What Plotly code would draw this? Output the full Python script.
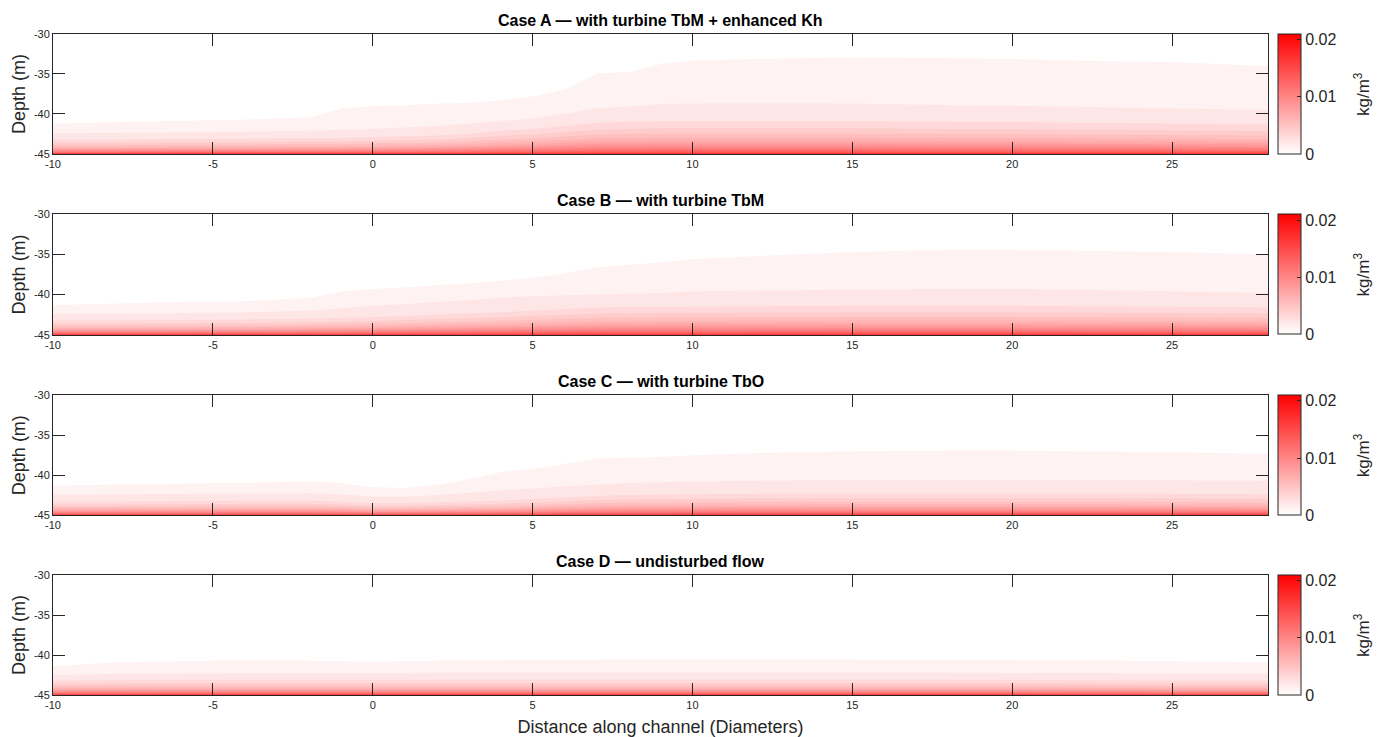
import numpy as np
import plotly.graph_objects as go

# ---------------- data ----------------
x_stations = [-10, -8, -6, -4, -2, -1, 0, 1, 2, 3, 4, 5, 6, 7, 8, 9, 10, 12, 15, 18, 20, 22, 25, 28]

# depth (m) of the 0.001 / 0.002 / 0.003 kg/m3 iso-lines at each station
caseA_c001 = [-41.2, -41.0, -40.85, -40.7, -40.4, -39.3, -39.0, -38.9, -38.7, -38.6, -38.3, -37.8,
              -36.9, -34.9, -34.75, -33.7, -33.3, -33.1, -32.9, -33.0, -33.1, -33.3, -33.5, -34.0]
caseA_c002 = [-42.4, -42.35, -42.3, -42.2, -42.1, -42.0, -41.9, -41.7, -41.5, -41.2, -40.9, -40.6,
              -40.0, -39.3, -39.1, -38.75, -38.7, -38.65, -38.7, -38.9, -39.0, -39.1, -39.3, -39.5]
caseA_c003 = [-43.2, -43.2, -43.1, -43.1, -43.0, -43.0, -42.9, -42.8, -42.7, -42.5, -42.1, -41.9,
              -41.5, -41.1, -41.0, -40.9, -40.9, -40.9, -40.9, -41.0, -41.0, -41.1, -41.2, -41.3]

caseB_c001 = [-41.3, -41.1, -40.9, -40.8, -40.4, -39.6, -39.3, -39.1, -38.8, -38.6, -38.3, -37.9,
              -37.35, -36.6, -36.3, -36.0, -35.6, -35.2, -34.7, -34.45, -34.45, -34.55, -34.7, -35.0]
caseB_c002 = [-42.4, -42.35, -42.3, -42.2, -42.0, -41.7, -41.4, -41.2, -40.9, -40.7, -40.4, -40.2,
              -40.1, -40.0, -39.9, -39.8, -39.6, -39.5, -39.4, -39.3, -39.3, -39.4, -39.6, -39.8]
caseB_c003 = [-43.2, -43.2, -43.15, -43.1, -43.0, -42.9, -42.8, -42.65, -42.5, -42.35, -42.2, -42.0,
              -41.8, -41.6, -41.55, -41.5, -41.5, -41.45, -41.4, -41.4, -41.4, -41.45, -41.5, -41.6]

caseC_c001 = [-41.3, -41.15, -41.05, -40.95, -40.75, -40.95, -41.5, -41.6, -41.2, -40.5, -39.6, -39.2,
              -38.6, -37.9, -37.8, -37.7, -37.5, -37.2, -37.0, -36.9, -36.9, -37.0, -37.1, -37.3]
caseC_c002 = [-42.45, -42.4, -42.35, -42.3, -42.25, -42.4, -42.7, -42.7, -42.5, -42.2, -41.9, -41.7,
              -41.4, -41.2, -41.0, -40.9, -40.8, -40.7, -40.6, -40.6, -40.6, -40.6, -40.65, -40.7]
caseC_c003 = [-43.3, -43.3, -43.25, -43.2, -43.2, -43.3, -43.5, -43.5, -43.4, -43.3, -43.2, -43.0,
              -42.8, -42.6, -42.5, -42.45, -42.4, -42.35, -42.3, -42.3, -42.3, -42.3, -42.35, -42.4]

caseD_c001 = [-41.4, -40.9, -40.75, -40.65, -40.7, -40.75, -40.8, -40.75, -40.7, -40.65, -40.6, -40.6,
              -40.6, -40.55, -40.55, -40.55, -40.55, -40.55, -40.55, -40.6, -40.6, -40.65, -40.75, -40.9]
caseD_c002 = [-42.5, -42.35, -42.3, -42.25, -42.25, -42.25, -42.25, -42.25, -42.2, -42.2, -42.2, -42.2,
              -42.2, -42.2, -42.2, -42.2, -42.2, -42.2, -42.2, -42.2, -42.25, -42.25, -42.3, -42.3]
caseD_c003 = [-43.2, -43.15, -43.1, -43.1, -43.1, -43.1, -43.1, -43.1, -43.1, -43.1, -43.1, -43.1,
              -43.1, -43.1, -43.1, -43.1, -43.1, -43.1, -43.1, -43.1, -43.1, -43.15, -43.2, -43.2]

# near-bed levels (kg/m3) and their height as a fraction of the 0.003 iso-line height
near_bed_levels = [0.016, 0.015, 0.014, 0.013, 0.012, 0.011, 0.010, 0.009, 0.008, 0.007, 0.006, 0.005, 0.004]
near_bed_frac = [0.01, 0.025, 0.045, 0.07, 0.10, 0.14, 0.19, 0.25, 0.32, 0.40, 0.50, 0.62, 0.78]
bed_value = 0.0165
bed_depth = -45.0

titles = ["Case A — with turbine TbM + enhanced Kh",
          "Case B — with turbine TbM",
          "Case C — with turbine TbO",
          "Case D — undisturbed flow"]
cases = [(caseA_c001, caseA_c002, caseA_c003),
         (caseB_c001, caseB_c002, caseB_c003),
         (caseC_c001, caseC_c002, caseC_c003),
         (caseD_c001, caseD_c002, caseD_c003)]

cbar_ticks = [0, 0.01, 0.02]
cbar_ticktext = ["0", "0.01", "0.02"]
cbar_title = "kg/m<sup>3</sup>"
x_ticks = [-10, -5, 0, 5, 10, 15, 20, 25]
x_ticktext = ["-10", "-5", "0", "5", "10", "15", "20", "25"]
y_ticks = [-45, -40, -35, -30]
y_ticktext = ["-45", "-40", "-35", "-30"]

# ---------------- build the fields ----------------
depth_grid = np.linspace(-45, -30, 301)
x_grid = np.linspace(-10, 28, 381)


def build_field(c1, c2, c3):
    c1g = np.interp(x_grid, x_stations, c1)
    c2g = np.interp(x_grid, x_stations, c2)
    c3g = np.interp(x_grid, x_stations, c3)
    z = np.zeros((len(depth_grid), len(x_grid)))
    for i in range(len(x_grid)):
        h3 = c3g[i] - bed_depth
        d = [bed_depth] + [bed_depth + f * h3 for f in near_bed_frac] + [c3g[i], c2g[i], c1g[i], c1g[i] + 0.1, -30.0]
        v = [bed_value] + near_bed_levels + [0.003, 0.002, 0.001, 0.0, 0.0]
        z[:, i] = np.interp(depth_grid, d, v)
    return z


reds = [[0, "#ffffff"], [1, "#ff0000"]]
domains = [[0.8186, 1.0], [0.5448, 0.7278], [0.2722, 0.4535], [0.0, 0.1815]]
axis_col = "#262626"
font_fam = "Arial, Liberation Sans, Helvetica, sans-serif"

fig = go.Figure()
annotations = []
for k, (c1, c2, c3) in enumerate(cases):
    xa = "x" if k == 0 else f"x{k+1}"
    ya = "y" if k == 0 else f"y{k+1}"
    z = build_field(c1, c2, c3)
    fig.add_trace(go.Contour(
        x=x_grid, y=depth_grid, z=z, xaxis=xa, yaxis=ya,
        colorscale=reds, showscale=False,
        contours=dict(start=0.001, end=0.020, size=0.001, coloring="fill", showlines=False),
        line=dict(width=0), hoverinfo="skip"))
    dom = domains[k]
    fig.add_trace(go.Scatter(
        x=[None], y=[None], xaxis=xa, yaxis=ya, mode="markers", showlegend=False,
        marker=dict(color=[0], cmin=0, cmax=0.021, colorscale=reds, showscale=True,
                    colorbar=dict(x=1.0086, xanchor="left", xpad=0, ypad=0,
                                  y=(dom[0] + dom[1]) / 2, yanchor="middle",
                                  len=120, lenmode="pixels", thickness=23, thicknessmode="pixels",
                                  outlinewidth=1, outlinecolor=axis_col,
                                  tickvals=cbar_ticks, ticktext=cbar_ticktext,
                                  ticks="inside", ticklen=4, tickcolor=axis_col,
                                  tickfont=dict(size=16, color=axis_col, family=font_fam)))))
    axcommon = dict(showline=True, linecolor=axis_col, linewidth=1, mirror="ticks",
                    ticks="inside", ticklen=12, tickcolor=axis_col, showgrid=False, zeroline=False,
                    tickfont=dict(size=11, color=axis_col, family=font_fam))
    xkey = "xaxis" if k == 0 else f"xaxis{k+1}"
    ykey = "yaxis" if k == 0 else f"yaxis{k+1}"
    xdict = dict(domain=[0, 1], anchor=ya, range=[-10, 28], tickvals=x_ticks, ticktext=x_ticktext, **axcommon)
    if k == 3:
        xdict["title"] = dict(text="Distance along channel (Diameters)",
                              font=dict(size=18, color=axis_col, family=font_fam), standoff=10)
    fig.update_layout({
        xkey: xdict,
        ykey: dict(domain=dom, anchor=xa, range=[-45, -30], tickvals=y_ticks, ticktext=y_ticktext,
                   title=dict(text="Depth (m)", font=dict(size=18, color=axis_col, family=font_fam),
                              standoff=3),
                   **axcommon),
    })
    annotations.append(dict(text=f"<b>{titles[k]}</b>", x=0.5, xref="paper", y=dom[1], yref="paper",
                            yanchor="bottom", xanchor="center", yshift=3, showarrow=False,
                            font=dict(size=16, color="#000000", family=font_fam)))
    annotations.append(dict(text=cbar_title, x=1.0774, xref="paper", y=(dom[0] + dom[1]) / 2, yref="paper",
                            xanchor="center", yanchor="middle", textangle=-90, showarrow=False,
                            font=dict(size=17, color=axis_col, family=font_fam)))

# the page body adds an 8 px offset; margins compensate so plot areas land where the reference has them
fig.update_layout(
    width=1388, height=737,
    margin=dict(l=45, r=128, t=26, b=50, autoexpand=False),
    paper_bgcolor="white", plot_bgcolor="white",
    annotations=annotations, showlegend=False,
    font=dict(family=font_fam, color=axis_col),
)
fig.write_html("out.html")
